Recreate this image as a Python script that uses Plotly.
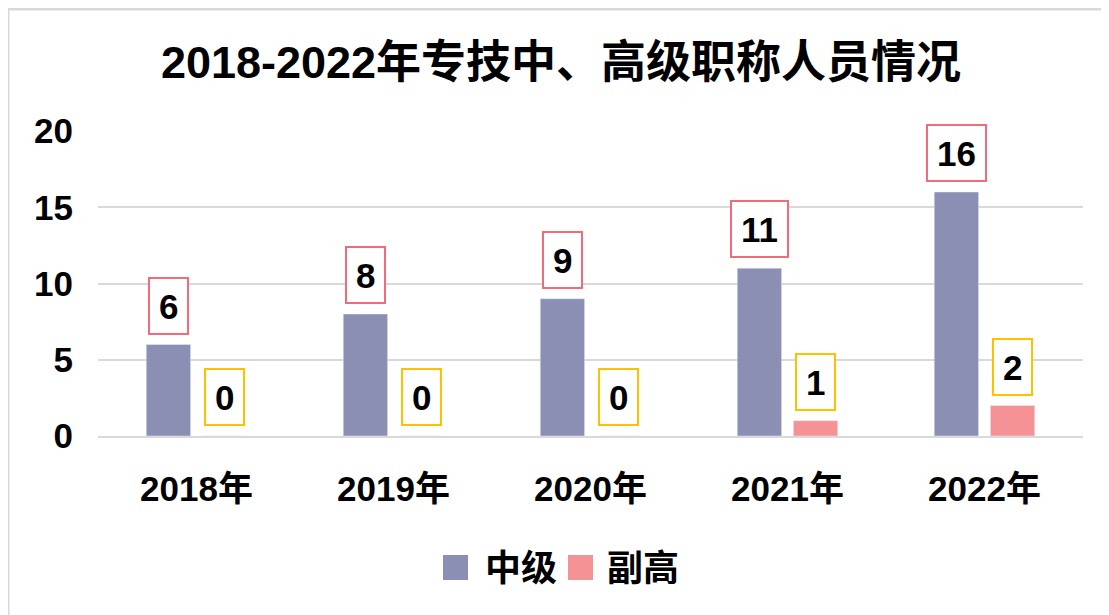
import plotly.graph_objects as go

categories = ["2018年", "2019年", "2020年", "2021年", "2022年"]
mid_level = [6, 8, 9, 11, 16]
vice_senior = [0, 0, 0, 1, 2]
series_names = ["中级", "副高"]
title_text = "2018-2022年专技中、高级职称人员情况"

BLUE = "#8C8FB4"
PINK = "#F49295"
RED_BOX = "#F26B78"
GOLD_BOX = "#FFC000"
GRID = "#D9D9D9"
FONT = "Liberation Sans, Arial, Noto Sans CJK SC, sans-serif"

# page body has an 8px margin; figure is sized/positioned to compensate
W, H = 1101, 607
L, R, T, B = 90, 26, 123, 179

pw = W - L - R
ph = H - T - B
def px_x(p):
    return (p - L) / pw
def px_y(p):
    return (H - B - p) / ph

fig = go.Figure()
colors = [BLUE, PINK]
for name, vals, col in zip(series_names, [mid_level, vice_senior], colors):
    fig.add_trace(go.Bar(x=categories, y=vals, name=name, marker_color=col,
                         showlegend=False))

annotations = []
for vals, shift, bcol in [(mid_level, -28, RED_BOX), (vice_senior, 28, GOLD_BOX)]:
    for cat, v in zip(categories, vals):
        annotations.append(dict(x=cat, y=v, xref="x", yref="y", text=str(v), showarrow=False,
                                xshift=shift, yshift=10, yanchor="bottom", xanchor="center",
                                font=dict(family=FONT, size=35, color="black", weight="bold"),
                                bordercolor=bcol, borderwidth=2, borderpad=9, height=36,
                                bgcolor="white"))

shapes = [
    dict(type="line", xref="paper", yref="paper", x0=px_x(0), x1=px_x(W + 5),
         y0=px_y(1), y1=px_y(1), line=dict(color="#D9D9D9", width=3)),
    dict(type="line", xref="paper", yref="paper", x0=px_x(0), x1=px_x(0),
         y0=px_y(1), y1=px_y(H + 5), line=dict(color="#D9D9D9", width=3)),
]

# legend (drawn manually for larger square keys)
legend_items = [(series_names[0], BLUE, 435, 475), (series_names[1], PINK, 560, 597)]
for name, col, sx, tx in legend_items:
    shapes.append(dict(type="rect", xref="paper", yref="paper",
                       x0=px_x(sx), x1=px_x(sx + 25), y0=px_y(547), y1=px_y(572),
                       fillcolor=col, line=dict(width=0)))
    annotations.append(dict(xref="paper", yref="paper", x=px_x(tx), y=px_y(560),
                            text=name, showarrow=False, xanchor="left", yanchor="middle",
                            font=dict(family=FONT, size=36, color="black", weight="bold")))

fig.update_layout(
    width=W, height=H,
    margin=dict(l=L, r=R, t=T, b=B),
    paper_bgcolor="white", plot_bgcolor="white",
    barmode="group", bargap=0.43, bargroupgap=0.21,
    showlegend=False,
    title=dict(text=title_text, x=(561 - 8) / W, xref="container", xanchor="center",
               y=1 - 54 / H, yref="container", yanchor="middle",
               font=dict(family=FONT, size=45, color="black", weight="bold")),
    annotations=annotations,
    shapes=shapes,
)
fig.update_xaxes(showgrid=False, showline=True, linecolor=GRID, linewidth=2,
                 ticks="outside", ticklen=21, tickcolor="rgba(0,0,0,0)",
                 tickfont=dict(family=FONT, size=35, color="black", weight="bold"))
fig.update_yaxes(range=[0, 20], dtick=5, showgrid=True, gridcolor=GRID, gridwidth=2,
                 zeroline=False, showline=False,
                 ticks="outside", ticklen=17, tickcolor="rgba(0,0,0,0)",
                 tickfont=dict(family=FONT, size=35, color="black", weight="bold"))

fig.write_html("out.html")
